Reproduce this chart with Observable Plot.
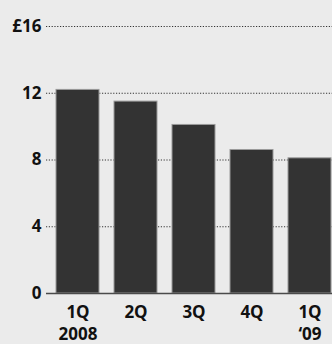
<!DOCTYPE html>
<html>
<head>
<meta charset="utf-8">
<script src="https://cdn.jsdelivr.net/npm/d3@7"></script>
<script src="https://cdn.jsdelivr.net/npm/@observablehq/plot@0.6"></script>
<style>
  html, body { margin: 0; padding: 0; background: #ebebeb; }
  #chart svg { display: block; background: #ebebeb; overflow: visible; }
  #chart svg text { font-family: 'Open Sans', sans-serif; font-size: 17px; font-weight: 700; fill: #111; }
</style>
</head>
<body>
<div id="chart"></div>
<script>
const quarters = ["1Q\n2008", "2Q", "3Q", "4Q", "1Q\n‘09"];
const values = [12.2, 11.5, 10.1, 8.6, 8.1];
const yTicks = [0, 4, 8, 12, 16];
const gridTicks = [4, 8, 12, 16];

const data = quarters.map((q, i) => ({q, v: values[i]}));

const chart = Plot.plot({
  width: 332,
  height: 344,
  marginTop: 26,
  marginBottom: 51,
  marginLeft: 46,
  marginRight: 0,
  style: {background: "#ebebeb", fontFamily: "'Open Sans', sans-serif", fontSize: "17px", color: "#111"},
  x: {domain: quarters, paddingInner: 0.265, paddingOuter: 0.077, align: 0.89, label: null},
  y: {domain: [0, 16], label: null},
  marks: [
    Plot.ruleY(gridTicks, {stroke: "#333", strokeDasharray: "1.2,1.6", strokeWidth: 1}),
    Plot.barY(data, {x: "q", y: "v", fill: "#333333", stroke: "#9a9a9a", strokeWidth: 1}),
    Plot.ruleY([0], {stroke: "#4a4a4a", strokeWidth: 1.5}),
    Plot.axisY({ticks: yTicks, tickSize: 0, tickPadding: 5, tickFormat: d => d === 16 ? "£16" : String(d), label: null, fontSize: 17}),
    Plot.axisX({tickSize: 0, tickPadding: 9, label: null, lineHeight: 1.3, fontSize: 17})
  ]
});
document.getElementById("chart").append(chart);
</script>
</body>
</html>
